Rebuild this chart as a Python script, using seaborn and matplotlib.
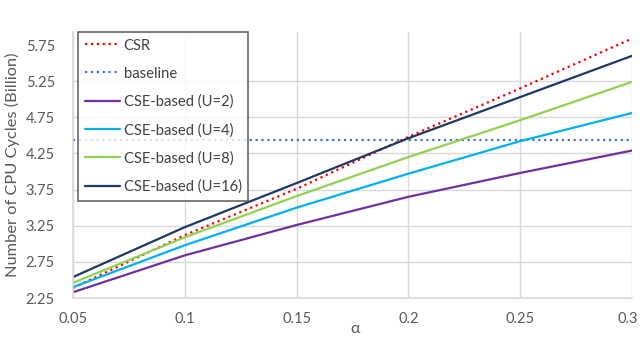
import matplotlib
matplotlib.use("Agg")
import matplotlib.pyplot as plt
import matplotlib.transforms as mtransforms
import seaborn as sns
import pandas as pd

alpha = [0.05, 0.1, 0.15, 0.2, 0.25, 0.3]
csr = [2.39, 3.12, 3.76, 4.48, 5.15, 5.84]
baseline = [4.44, 4.44, 4.44, 4.44, 4.44, 4.44]
u2 = [2.33, 2.84, 3.26, 3.65, 3.98, 4.29]
u4 = [2.40, 2.98, 3.50, 3.97, 4.42, 4.81]
u8 = [2.46, 3.09, 3.66, 4.20, 4.71, 5.24]
u16 = [2.54, 3.23, 3.84, 4.46, 5.03, 5.60]
yticks = [2.25, 2.75, 3.25, 3.75, 4.25, 4.75, 5.25, 5.75]
xticks = [0.05, 0.1, 0.15, 0.2, 0.25, 0.3]
xticklabels = ["0.05", "0.1", "0.15", "0.2", "0.25", "0.3"]

series = [
    ("CSR", csr, "#FF0000", ":"),
    ("baseline", baseline, "#4472C4", ":"),
    ("CSE-based (U=2)", u2, "#7030A0", "-"),
    ("CSE-based (U=4)", u4, "#00B0F0", "-"),
    ("CSE-based (U=8)", u8, "#92D050", "-"),
    ("CSE-based (U=16)", u16, "#1F3864", "-"),
]

sns.set_theme(style="white")
plt.rcParams["font.family"] = ["Lato", "DejaVu Sans"]

fig = plt.figure(figsize=(6.4, 3.38), dpi=100)
ax = fig.add_axes([73/640, 1-298/338, (632-73)/640, (298-32)/338])

for name, vals, color, ls in series:
    df = pd.DataFrame({"alpha": alpha, "v": vals})
    sns.lineplot(data=df, x="alpha", y="v", ax=ax, color=color, linestyle=ls,
                 linewidth=1.6, label=name)

ax.set_xlim(0.05, 0.3)
ax.set_ylim(2.25, 5.93)
ax.set_yticks(yticks)
ax.set_yticklabels([f"{t:.2f}" for t in yticks])
ax.set_xticks(xticks)
ax.set_xticklabels(xticklabels)
ax.tick_params(axis="y", labelsize=10.5, colors="#595959", length=0, pad=13)
ax.tick_params(axis="x", labelsize=10.5, colors="#595959", length=0, pad=10)
last = ax.get_xticklabels()[-1]
last.set_transform(last.get_transform() + mtransforms.ScaledTranslation(-4/100, 0, fig.dpi_scale_trans))
ax.grid(True, color="#D9D9D9", linewidth=1)
ax.yaxis.get_gridlines()[-1].set_visible(False)
ax.yaxis.get_gridlines()[0].set_visible(False)
for s in ["top", "right"]:
    ax.spines[s].set_visible(False)
for s in ["left", "bottom"]:
    ax.spines[s].set_color("#D9D9D9")
    ax.spines[s].set_linewidth(1.2)

ax.set_xlabel("α", fontsize=11.5, color="#595959")
ax.xaxis.set_label_coords((355-73)/559, (298-329)/266)
ax.xaxis.label.set_va("center")
ax.set_ylabel("Number of CPU Cycles (Billion)", fontsize=11.8, color="#595959")
ax.yaxis.set_label_coords((12-73)/559, 0.5)
ax.yaxis.label.set_va("center")

leg = ax.legend(loc="upper left", bbox_to_anchor=(5/559, 1.0), fontsize=10.6,
                frameon=True, fancybox=False, edgecolor="#404040",
                labelspacing=0.95, handlelength=2.4, handletextpad=0.25,
                borderpad=0.45, borderaxespad=0.0)
leg.get_frame().set_linewidth(1.2)
for t in leg.get_texts():
    t.set_color("#404040")

fig.savefig("out.png", dpi=100)
